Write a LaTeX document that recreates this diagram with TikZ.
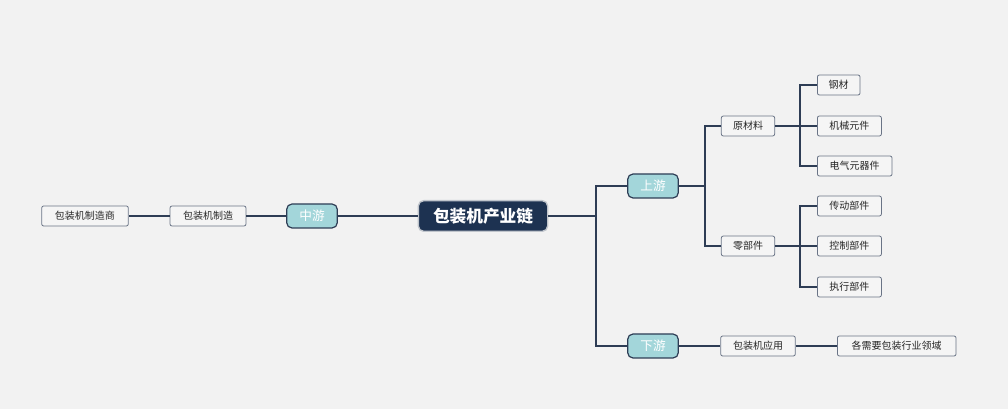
\documentclass[tikz,border=0pt]{standalone}
\usepackage{fontspec}
\setmainfont{Noto Sans CJK SC}
\begin{document}
\begin{tikzpicture}[x=0.75pt,y=-0.75pt,
  ln/.style={draw=lc,line width=1.1pt},
  leaf/.style={draw=lb,fill=lf,rounded corners=1.5pt,line width=0.6pt,minimum height=15pt,inner xsep=4pt,inner ysep=0pt,font=\fontsize{7.5pt}{9pt}\selectfont,text=black!85},
  mid/.style={draw=lc,fill=tf,rounded corners=4pt,line width=0.9pt,minimum height=18pt,minimum width=38pt,inner ysep=0pt,font=\fontsize{9.5pt}{11pt}\selectfont,text=white},
  root/.style={draw=white!70!lc,fill=rc,rounded corners=4pt,line width=1pt,minimum height=23pt,minimum width=97pt,inner ysep=0pt,font=\bfseries\fontsize{12.5pt}{14pt}\selectfont,text=white}]
\definecolor{lc}{HTML}{2E3D55}
\definecolor{lb}{HTML}{6A7486}
\definecolor{lf}{HTML}{F5F5F5}
\definecolor{tf}{HTML}{A3D6DA}
\definecolor{rc}{HTML}{1D3251}
\fill[fill={rgb,255:red,242;green,242;blue,242}] (0,0) rectangle (1008,409);
\useasboundingbox (0,0) rectangle (1008,409);
\node[root] (root) at (483,216) {包装机产业链};
\node[mid] (sy) at (653,186) {上游};
\node[mid] (zy) at (312,216) {中游};
\node[mid] (xy) at (653,346) {下游};
\node[leaf,minimum width=40pt] (ycl) at (748,126) {原材料};
\node[leaf,minimum width=40pt] (lbj) at (748,246) {零部件};
\node[leaf,minimum width=56pt] (yy) at (758,346) {包装机应用};
\node[leaf,anchor=west,minimum width=32pt] (gc) at (817,85) {钢材};
\node[leaf,anchor=west,minimum width=48pt] (jx) at (817,126) {机械元件};
\node[leaf,anchor=west,minimum width=56pt] (dq) at (817,166) {电气元器件};
\node[leaf,anchor=west,minimum width=48pt] (cd) at (817,206) {传动部件};
\node[leaf,anchor=west,minimum width=48pt] (kz) at (817,246) {控制部件};
\node[leaf,anchor=west,minimum width=48pt] (zx) at (817,287) {执行部件};
\node[leaf,anchor=west,minimum width=89pt] (gx) at (837,346) {各需要包装行业领域};
\node[leaf,minimum width=57pt] (zz) at (208,216) {包装机制造};
\node[leaf,minimum width=65pt] (zzs) at (85,216) {包装机制造商};
\coordinate (j1) at (596,216);
\coordinate (j2) at (705,186);
\coordinate (j3) at (800,126);
\coordinate (j4) at (800,246);
\draw[ln] (root.east) -- (j1);
\draw[ln] (j1) |- (sy.west);
\draw[ln] (j1) |- (xy.west);
\draw[ln] (root.west) -- (zy.east);
\draw[ln] (zy.west) -- (zz.east);
\draw[ln] (zz.west) -- (zzs.east);
\draw[ln] (sy.east) -- (j2);
\draw[ln] (j2) |- (ycl.west);
\draw[ln] (j2) |- (lbj.west);
\draw[ln] (xy.east) -- (yy.west);
\draw[ln] (yy.east) -- (gx.west);
\draw[ln] (ycl.east) -- (j3);
\draw[ln] (j3) |- (gc.west);
\draw[ln] (j3) -- (jx.west);
\draw[ln] (j3) |- (dq.west);
\draw[ln] (lbj.east) -- (j4);
\draw[ln] (j4) |- (cd.west);
\draw[ln] (j4) -- (kz.west);
\draw[ln] (j4) |- (zx.west);
\end{tikzpicture}
\end{document}
